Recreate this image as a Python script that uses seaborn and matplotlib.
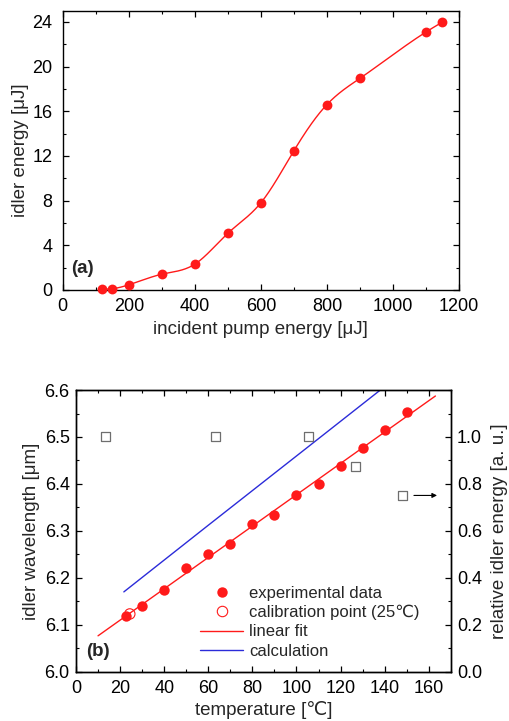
import numpy as np
import pandas as pd
import matplotlib
matplotlib.use("Agg")
import matplotlib.pyplot as plt
from matplotlib.ticker import MultipleLocator, FormatStrFormatter
from matplotlib.lines import Line2D
import seaborn as sns

# ---------------- data ----------------
pump_energy = [120, 150, 200, 300, 400, 500, 600, 700, 800, 900, 1100, 1150]
idler_energy = [0.05, 0.1, 0.45, 1.4, 2.3, 5.07, 7.8, 12.46, 16.6, 18.95, 23.1, 24.0]

temp_exp = [22.6, 30, 40, 50, 60, 70, 80, 90, 100, 110, 120, 130, 140, 150]
wl_exp = [6.119, 6.141, 6.175, 6.220, 6.250, 6.273, 6.315, 6.333, 6.376, 6.400,
          6.438, 6.476, 6.515, 6.554]
calib_temp = [24.4]
calib_wl = [6.123]
fit_range = [10, 163]
calc_temp = [21.7, 60, 105.8, 138.0]
calc_wl = [6.170, 6.312, 6.481, 6.600]
rel_temp = [13.6, 63.3, 105.5, 126.9, 148.0]
rel_energy = [1.0, 1.0, 1.0, 0.876, 0.751]

# --------------- style ----------------
sns.set_theme(style="ticks")
plt.rcParams['font.family'] = ['Liberation Sans', 'DejaVu Sans']
plt.rcParams.update({
    'xtick.direction': 'in', 'ytick.direction': 'in',
    'xtick.top': True, 'ytick.right': True,
    'xtick.major.size': 4.5, 'ytick.major.size': 4.5,
    'xtick.minor.size': 2.5, 'ytick.minor.size': 2.5,
    'xtick.major.width': 0.9, 'ytick.major.width': 0.9,
    'xtick.minor.width': 0.8, 'ytick.minor.width': 0.8,
    'xtick.major.pad': 6, 'ytick.major.pad': 4.5,
    'axes.linewidth': 1.0, 'axes.edgecolor': 'black',
    'xtick.color': 'black', 'ytick.color': 'black',
    'xtick.labelsize': 13, 'ytick.labelsize': 13,
    'axes.labelsize': 13.5,
})

RED = '#ff1a1a'
BLUE = '#2b2bd9'


def natural_spline(x, y, xs):
    x = np.asarray(x, float); y = np.asarray(y, float)
    n = len(x); h = np.diff(x)
    A = np.zeros((n, n)); r = np.zeros(n)
    A[0, 0] = 1; A[-1, -1] = 1
    for i in range(1, n - 1):
        A[i, i - 1] = h[i - 1]
        A[i, i] = 2 * (h[i - 1] + h[i])
        A[i, i + 1] = h[i]
        r[i] = 6 * ((y[i + 1] - y[i]) / h[i] - (y[i] - y[i - 1]) / h[i - 1])
    M = np.linalg.solve(A, r)
    idx = np.clip(np.searchsorted(x, xs) - 1, 0, n - 2)
    hi = h[idx]; a = x[idx + 1] - xs; b = xs - x[idx]
    return (M[idx] * a**3 / (6 * hi) + M[idx + 1] * b**3 / (6 * hi)
            + (y[idx] / hi - M[idx] * hi / 6) * a
            + (y[idx + 1] / hi - M[idx + 1] * hi / 6) * b)


fig = plt.figure(figsize=(5.1, 7.21), dpi=100)

# --------------- panel (a) ---------------
ax1 = fig.add_axes([0.123, 0.598, 0.777, 0.387])
xs = np.linspace(pump_energy[0], pump_energy[-1], 500)
curve = pd.DataFrame({'x': xs, 'y': natural_spline(pump_energy, idler_energy, xs)})
sns.lineplot(data=curve, x='x', y='y', ax=ax1, color=RED, lw=1.0)
dfa = pd.DataFrame({'x': pump_energy, 'y': idler_energy})
sns.scatterplot(data=dfa, x='x', y='y', ax=ax1, color=RED, s=50,
                edgecolor=RED, linewidth=0, zorder=5, clip_on=False)
ax1.set_xlim(0, 1200); ax1.set_ylim(0, 25)
ax1.xaxis.set_major_locator(MultipleLocator(200))
ax1.xaxis.set_minor_locator(MultipleLocator(100))
ax1.yaxis.set_major_locator(MultipleLocator(4))
ax1.yaxis.set_minor_locator(MultipleLocator(2))
ax1.tick_params(axis='y', which='major', pad=7.5)
ax1.set_xlabel('incident pump energy [μJ]', labelpad=4)
ax1.set_ylabel('idler energy [μJ]', labelpad=2)
ax1.text(25, 1.9, '(a)', fontsize=13.5, fontweight='bold', va='center')

# --------------- panel (b) ---------------
ax2 = fig.add_axes([0.149, 0.0684, 0.735, 0.3906])
coef = np.polyfit(temp_exp, wl_exp, 1)
fit = pd.DataFrame({'x': fit_range, 'y': np.polyval(coef, fit_range)})
calc = pd.DataFrame({'x': calc_temp, 'y': calc_wl})
sns.lineplot(data=fit, x='x', y='y', ax=ax2, color=RED, lw=1.0)
sns.lineplot(data=calc, x='x', y='y', ax=ax2, color=BLUE, lw=1.0)
dfb = pd.DataFrame({'x': temp_exp, 'y': wl_exp})
sns.scatterplot(data=dfb, x='x', y='y', ax=ax2, color=RED, s=56,
                edgecolor=RED, linewidth=0, zorder=5)
dfc = pd.DataFrame({'x': calib_temp, 'y': calib_wl})
sns.scatterplot(data=dfc, x='x', y='y', ax=ax2, facecolor='none', s=56,
                edgecolor=RED, linewidth=0.8, zorder=6)
ax2.set_xlim(0, 170); ax2.set_ylim(6.0, 6.6)
ax2.xaxis.set_major_locator(MultipleLocator(20))
ax2.xaxis.set_minor_locator(MultipleLocator(10))
ax2.yaxis.set_major_locator(MultipleLocator(0.1))
ax2.yaxis.set_minor_locator(MultipleLocator(0.05))
ax2.yaxis.set_major_formatter(FormatStrFormatter('%.1f'))
ax2.set_xlabel('temperature [℃]', labelpad=3)
ax2.set_ylabel('idler wavelength [μm]', labelpad=3)
ax2.tick_params(right=False)
ax2.text(4.5, 6.043, '(b)', fontsize=13.5, fontweight='bold', va='center')

ax3 = ax2.twinx()
dfr = pd.DataFrame({'x': rel_temp, 'y': rel_energy})
sns.scatterplot(data=dfr, x='x', y='y', ax=ax3, marker='s', s=42,
                facecolor='none', edgecolor='#6e6e6e', linewidth=0.9)
ax3.set_ylim(0, 1.2)
ax3.set_yticks([0.0, 0.2, 0.4, 0.6, 0.8, 1.0])
ax3.yaxis.set_minor_locator(MultipleLocator(0.1))
ax3.yaxis.set_major_formatter(FormatStrFormatter('%.1f'))
ax3.tick_params(axis='y', which='both', direction='in', right=True, left=False)
ax3.tick_params(axis='x', top=False)
ax3.set_ylabel('relative idler energy [a. u.]', labelpad=6)
ax3.annotate('', xy=(165, rel_energy[-1]), xytext=(152, rel_energy[-1]),
             arrowprops=dict(arrowstyle='-|>', color='black', lw=0.8,
                             mutation_scale=7))

handles = [
    Line2D([], [], ls='none', marker='o', color=RED, ms=7.5, mew=0),
    Line2D([], [], ls='none', marker='o', mfc='none', mec=RED, ms=7.5, mew=0.8),
    Line2D([], [], color=RED, lw=1.0),
    Line2D([], [], color=BLUE, lw=1.0),
]
labels = ['experimental data', 'calibration point (25℃)', 'linear fit', 'calculation']
ax2.legend(handles, labels, loc='lower left', bbox_to_anchor=(0.30, 0.005),
           frameon=False, fontsize=12, handlelength=2.6, handletextpad=0.35,
           labelspacing=0.25, borderpad=0.2)

fig.savefig('out.png', dpi=100)
